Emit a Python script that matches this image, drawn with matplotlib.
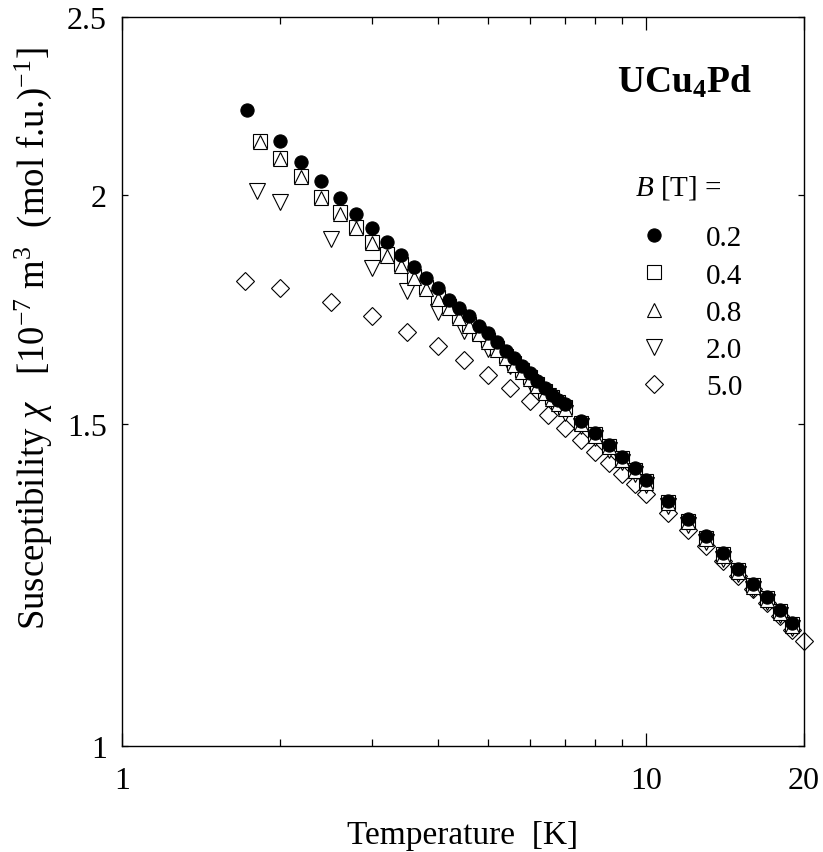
import matplotlib
matplotlib.use("Agg")
import matplotlib.pyplot as plt
from matplotlib.ticker import FixedLocator, NullLocator, FixedFormatter

plt.rcParams['font.family'] = ['Liberation Serif', 'DejaVu Serif']
plt.rcParams['mathtext.fontset'] = 'custom'
plt.rcParams['mathtext.rm'] = 'Liberation Serif'
plt.rcParams['mathtext.it'] = 'Liberation Serif:italic'
plt.rcParams['mathtext.bf'] = 'Liberation Serif:bold'
plt.rcParams['mathtext.default'] = 'regular'

# susceptibility data (T in K, chi in 1e-7 m^3/mol f.u.)
T_02 = [1.73, 2.0, 2.2, 2.4, 2.6, 2.8, 3.0, 3.2, 3.4, 3.6, 3.8, 4.0, 4.2, 4.4, 4.6, 4.8,
        5.0, 5.2, 5.4, 5.6, 5.8, 6.0, 6.2, 6.4, 6.6, 6.8, 7.0, 7.5, 8.0, 8.5, 9.0, 9.5,
        10, 11, 12, 13, 14, 15, 16, 17, 18, 19]
chi_02 = [2.224, 2.139, 2.084, 2.034, 1.991, 1.951, 1.917, 1.885, 1.854, 1.827, 1.801,
          1.778, 1.752, 1.734, 1.717, 1.696, 1.680, 1.662, 1.644, 1.629, 1.613, 1.598,
          1.583, 1.569, 1.556, 1.546, 1.537, 1.505, 1.483, 1.461, 1.439, 1.418, 1.398,
          1.362, 1.330, 1.302, 1.275, 1.250, 1.227, 1.207, 1.187, 1.168]

T_04 = [1.83, 2.0, 2.2, 2.4, 2.6, 2.8, 3.0, 3.2, 3.4, 3.6, 3.8, 4.0, 4.2, 4.4, 4.6, 4.8,
        5.0, 5.2, 5.4, 5.6, 5.8, 6.0, 6.2, 6.4, 6.6, 6.8, 7.0, 7.5, 8.0, 8.5, 9.0, 9.5,
        10, 11, 12, 13, 14, 15, 16, 17, 18, 19]
chi_04 = [2.139, 2.094, 2.048, 1.994, 1.956, 1.921, 1.885, 1.856, 1.833, 1.806, 1.780,
          1.758, 1.739, 1.718, 1.700, 1.682, 1.666, 1.650, 1.634, 1.619, 1.604, 1.590,
          1.576, 1.563, 1.551, 1.541, 1.532, 1.502, 1.480, 1.459, 1.437, 1.416, 1.396,
          1.360, 1.328, 1.300, 1.273, 1.248, 1.225, 1.205, 1.185, 1.166]

T_08 = T_04
chi_08 = [2.137, 2.092, 2.046, 1.991, 1.953, 1.918, 1.882, 1.852, 1.829, 1.802, 1.776,
          1.754, 1.735, 1.714, 1.696, 1.678, 1.662, 1.646, 1.630, 1.615, 1.600, 1.586,
          1.572, 1.559, 1.547, 1.537, 1.528, 1.499, 1.477, 1.456, 1.434, 1.413, 1.393,
          1.357, 1.325, 1.297, 1.270, 1.245, 1.222, 1.202, 1.182, 1.163]

T_20 = [1.81, 2.0, 2.5, 3.0, 3.5, 4.0, 4.5, 5.0, 5.5, 6.0, 6.5, 7.0, 7.5, 8.0, 8.5, 9.0,
        9.5, 10, 11, 12, 13, 14, 15, 16, 17, 18, 19]
chi_20 = [2.010, 1.981, 1.891, 1.823, 1.771, 1.725, 1.686, 1.647, 1.613, 1.580, 1.553,
          1.521, 1.496, 1.474, 1.452, 1.430, 1.409, 1.389, 1.353, 1.321, 1.293, 1.266,
          1.242, 1.219, 1.199, 1.179, 1.160]

T_50 = [1.72, 2.0, 2.5, 3.0, 3.5, 4.0, 4.5, 5.0, 5.5, 6.0, 6.5, 7.0, 7.5, 8.0, 8.5, 9.0,
        9.5, 10, 11, 12, 13, 14, 15, 16, 17, 18, 19, 20]
chi_50 = [1.795, 1.779, 1.748, 1.717, 1.684, 1.653, 1.624, 1.594, 1.568, 1.543, 1.516,
          1.491, 1.470, 1.448, 1.428, 1.408, 1.390, 1.373, 1.341, 1.313, 1.287, 1.262,
          1.239, 1.218, 1.198, 1.178, 1.158, 1.141]

labels = ['0.2', '0.4', '0.8', '2.0', '5.0']
xticks = [1, 10, 20]
xminor = [2, 3, 4, 5, 6, 7, 8, 9]
yticks = [1, 1.5, 2, 2.5]

fig = plt.figure(figsize=(8.23, 8.53), dpi=100)
ax = fig.add_axes([0.1482, 0.1237, 0.8287, 0.8552])
ax.set_xscale('log')
ax.set_yscale('log')

mew = 0.8
kw = dict(ls='none', mec='black', mew=mew, clip_on=False)
h50, = ax.plot(T_50, chi_50, marker='D', ms=9, mfc='white', zorder=2, **kw)
h20, = ax.plot(T_20, chi_20, marker='v', ms=11, mfc='white', zorder=3, **kw)
h04, = ax.plot(T_04, chi_04, marker='s', ms=10.5, mfc='white', zorder=4, **kw)
h08, = ax.plot(T_08, chi_08, marker='^', ms=10.5, mfc='white', zorder=5, **kw)
h02, = ax.plot(T_02, chi_02, marker='o', ms=9.5, mfc='black', zorder=6, **kw)

ax.set_xlim(1, 20)
ax.set_ylim(1, 2.5)

ax.xaxis.set_major_locator(FixedLocator(xticks))
ax.xaxis.set_major_formatter(FixedFormatter([str(v) for v in xticks]))
ax.xaxis.set_minor_locator(FixedLocator(xminor))
ax.xaxis.set_minor_formatter(FixedFormatter([''] * len(xminor)))
ax.yaxis.set_major_locator(FixedLocator(yticks))
ax.yaxis.set_major_formatter(FixedFormatter(['1', '1.5', '2', '2.5']))
ax.yaxis.set_minor_locator(NullLocator())

ax.tick_params(which='both', direction='in', top=True, right=True,
               labelsize=23, width=0.9, color='black')
ax.tick_params(axis='x', which='major', length=9.5, pad=14)
ax.tick_params(axis='x', which='minor', length=5)
ax.tick_params(axis='y', which='major', length=4.5, pad=11)
for s in ax.spines.values():
    s.set_linewidth(1.0)

ax.set_xlabel('Temperature  [K]', fontsize=24)
ax.xaxis.set_label_coords(0.5, -0.10)
ax.set_ylabel(r'Susceptibility $\mathit{\chi}$   [10$^{-7}$ m$^3$  (mol f.u.)$^{-1}$]',
              fontsize=26.5)
ax.yaxis.set_label_coords(-0.10, 0.56)

ax.text(0.8248, 0.8972, 'UCu$_4$Pd', transform=ax.transAxes, fontsize=27,
        fontweight='bold', ha='center', va='baseline')
ax.text(0.7522, 0.7564, '$\\mathit{B}$ [T] =', transform=ax.transAxes, fontsize=21,
        ha='left', va='baseline')

ax.legend([h02, h04, h08, h20, h50], labels, loc='upper left',
          bbox_to_anchor=(0.7587, 0.7148), frameon=False, fontsize=21,
          borderpad=0, borderaxespad=0, handlelength=1.0, handletextpad=1.28,
          labelspacing=0.37, numpoints=1)

fig.savefig('out.png', dpi=100)
